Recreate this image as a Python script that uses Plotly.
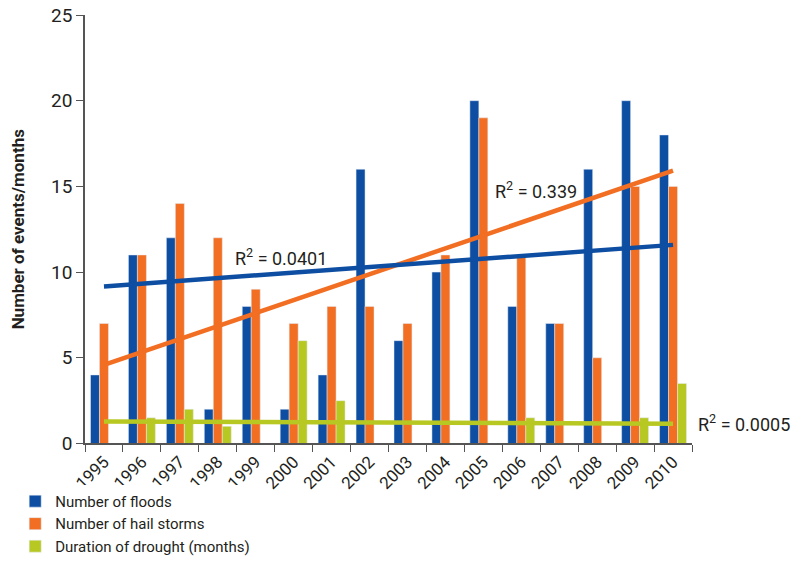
import numpy as np
import plotly.graph_objects as go

years = [str(y) for y in range(1995, 2011)]
floods = [4, 11, 12, 2, 8, 2, 4, 16, 6, 10, 20, 8, 7, 16, 20, 18]
hail_storms = [7, 11, 14, 12, 9, 7, 8, 8, 7, 11, 19, 11, 7, 5, 15, 15]
drought_months = [0, 1.5, 2, 1, 0, 6, 2.5, 0, 0, 0, 0, 1.5, 0, 0, 1.5, 3.5]
r2_labels = ["0.339", "0.0401", "0.0005"]

BLUE = "#0D4EA2"
ORANGE = "#F26E22"
GREEN = "#B8C823"
TEXT = "#231F20"
AXIS = "#555555"
FONT = "Roboto, Open Sans, sans-serif"


def trend(values):
    idx = np.arange(len(values))
    slope, icpt = np.polyfit(idx, values, 1)
    return slope * idx + icpt


fig = go.Figure()
fig.add_trace(go.Bar(x=years, y=floods, name="Number of floods", marker_color=BLUE))
fig.add_trace(go.Bar(x=years, y=hail_storms, name="Number of hail storms", marker_color=ORANGE))
fig.add_trace(go.Bar(x=years, y=drought_months, name="Duration of drought (months)", marker_color=GREEN))

# trend lines (colours as in the original figure)
fig.add_trace(go.Scatter(x=years, y=trend(floods), mode="lines", line=dict(color=ORANGE, width=4.5),
                         showlegend=False, hoverinfo="skip"))
fig.add_trace(go.Scatter(x=years, y=trend(hail_storms), mode="lines", line=dict(color=BLUE, width=4.5),
                         showlegend=False, hoverinfo="skip"))
fig.add_trace(go.Scatter(x=years, y=trend(drought_months), mode="lines", line=dict(color=GREEN, width=4.5),
                         showlegend=False, hoverinfo="skip"))

ann_font = dict(family=FONT, size=18, color=TEXT)
fig.add_annotation(x=0.672, xref="paper", y=14.8, yref="y", xanchor="left", showarrow=False,
                   text="R<sup>2</sup> = " + r2_labels[0], font=ann_font)
fig.add_annotation(x=0.244, xref="paper", y=10.9, yref="y", xanchor="left", showarrow=False,
                   text="R<sup>2</sup> = " + r2_labels[1], font=ann_font)
fig.add_annotation(x=1.006, xref="paper", y=1.17, yref="y", xanchor="left", showarrow=False,
                   text="R<sup>2</sup> = " + r2_labels[2], font=ann_font)

fig.update_layout(
    width=797, height=563,
    margin=dict(l=85, r=105, t=15, b=0),
    plot_bgcolor="white", paper_bgcolor="white",
    barmode="group", bargap=0.29, bargroupgap=0,
    font=dict(family=FONT, size=16, color=TEXT),
    legend=dict(orientation="h", x=-0.115, xanchor="left", y=0.027, yanchor="middle",
                font=dict(size=15), itemclick=False),
)
fig.update_xaxes(type="category", tickangle=-45, showline=True, linecolor=AXIS, linewidth=1.5,
                 ticks="outside", tickson="boundaries", ticklen=7, tickcolor=AXIS,
                 tickfont=dict(size=17), showgrid=False, automargin=False)
fig.update_yaxes(range=[0, 25], dtick=5, domain=[0.1807, 1], showline=True, linecolor=AXIS,
                 linewidth=1.5, ticks="outside", ticklen=7, tickcolor=AXIS, showgrid=False,
                 zeroline=False, tickfont=dict(size=19), automargin=False,
                 title=dict(text="<b>Number of events/months</b>", font=dict(size=17), standoff=22))

fig.write_html("out.html", config={"displayModeBar": False},
               post_script="document.body.style.margin = '0';")
